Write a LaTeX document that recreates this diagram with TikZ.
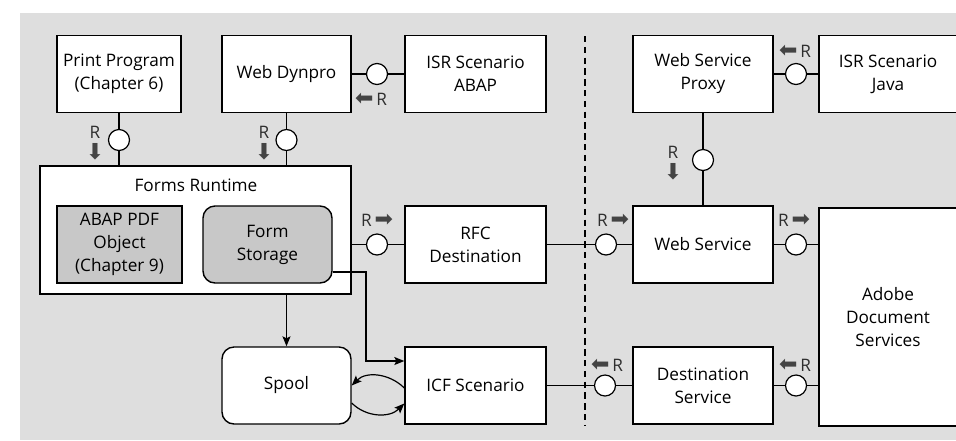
\documentclass[tikz,border=0pt]{standalone}
\usepackage{fontspec}
\setmainfont{Open Sans}
\newfontfamily\symfont{DejaVu Sans}
\usetikzlibrary{arrows.meta}
\definecolor{bgcol}{HTML}{DEDEDE}
\definecolor{boxgray}{HTML}{C8C8C8}
\definecolor{tagcol}{HTML}{2E2E2E}
\definecolor{tiparrow}{HTML}{444444}
% fat arrows next to the R tags
\newcommand{\Rright}{{\symfont\fontsize{11}{11}\selectfont\color{tiparrow}\char"27A1}}
\newcommand{\Rleft}{{\symfont\fontsize{11}{11}\selectfont\color{tiparrow}\char"2B05}}
\newcommand{\Rdown}{{\symfont\fontsize{11}{11}\selectfont\color{tiparrow}\char"2B07}}
\begin{document}
\begin{tikzpicture}[x=0.5pt,y=-0.5pt,
	every node/.style={font=\fontsize{8.6}{11.5}\selectfont},
	box/.style={draw, fill=white, line width=0.7pt, align=center, inner sep=0pt, minimum height=38.5pt},
	graybox/.style={box, fill=boxgray},
	roundbox/.style={box, rounded corners=6pt},
	iface/.style={circle, draw, fill=white, line width=0.6pt, minimum size=10.5pt, inner sep=0pt},
	rtag/.style={text=tagcol, inner sep=0pt, align=center},
	link/.style={line width=0.6pt},
	flow/.style={link, -{Stealth[length=5pt,width=4pt,inset=1pt]}},
	sep/.style={line width=0.9pt, dash pattern=on 3.2pt off 2.2pt}]
	\useasboundingbox (0,0) rectangle (956,440);
	% Hintergrund
	\fill[bgcol] (20,13) rectangle (956,440);
	% obere Reihe
	\node[box, minimum width=62pt] (prog) at (119,74) {Print Program\\(Chapter 6)};
	\node[box, minimum width=64.5pt] (dynpro) at (286.5,74) {Web Dynpro};
	\node[box, minimum width=70.5pt] (israbap) at (475.5,74) {ISR Scenario\\ABAP};
	\node[box, minimum width=70pt] (proxy) at (703,74) {Web Service\\Proxy};
	\node[box, minimum width=69pt] (isrjava) at (888,74) {ISR Scenario\\Java};
	% Forms Runtime mit Inhalt
	\node[box, minimum width=155.5pt, minimum height=64pt] (runtime) at (195.5,230) {};
	\node (rttitle) at (196,185) {Forms Runtime};
	\node[graybox, minimum width=62.5pt] (pdfobj) at (119.5,244.5) {ABAP PDF\\Object\\(Chapter 9)};
	\node[roundbox, fill=boxgray, minimum width=64.5pt] (storage) at (267.5,244.5) {Form\\Storage};
	% mittlere Reihe
	\node[box, minimum width=70.5pt] (rfc) at (475.5,244.5) {RFC\\Destination};
	\node[box, minimum width=70pt] (ws) at (703,244.5) {Web Service};
	\node[box, minimum width=69pt, minimum height=109pt] (adobe) at (888,317) {Adobe\\Document\\Services};
	% untere Reihe
	\node[roundbox, minimum width=64.5pt] (spool) at (286.5,385.5) {Spool};
	\node[box, minimum width=70.5pt] (icf) at (475.5,385.5) {ICF Scenario};
	\node[box, minimum width=70pt] (dest) at (703,385.5) {Destination\\Service};
	% Schnittstellen
	\node[iface] (i1) at (119,140) {};
	\node[iface] (i2) at (286.5,140) {};
	\node[iface] (i3) at (377,74) {};
	\node[iface] (i4) at (796,74) {};
	\node[iface] (i5) at (703,160) {};
	\node[iface] (i6) at (377,244.5) {};
	\node[iface] (i7) at (606,244.5) {};
	\node[iface] (i8) at (796,244.5) {};
	\node[iface] (i9) at (605,385.5) {};
	\node[iface] (i10) at (796,385.5) {};
	\draw[link] (prog) -- (i1) -- (i1 |- runtime.north);
	\draw[link] (dynpro) -- (i2) -- (i2 |- runtime.north);
	\draw[link] (dynpro) -- (i3) -- (israbap);
	\draw[link] (proxy) -- (i4) -- (isrjava);
	\draw[link] (proxy) -- (i5) -- (ws);
	\draw[link] (i6 -| runtime.east) -- (i6) -- (rfc);
	\draw[link] (rfc) -- (i7) -- (ws);
	\draw[link] (ws) -- (i8) -- (i8 -| adobe.west);
	\draw[link] (icf) -- (i9) -- (dest);
	\draw[link] (dest) -- (i10) -- (i10 -| adobe.west);
	% R-Markierungen
	\node[rtag] (t1) at (95,143) {R\\[-1pt]\Rdown};
	\node[rtag] (t2) at (264,143) {R\\[-1pt]\Rdown};
	\node[rtag] (t3) at (371,99) {\Rleft\,R};
	\node[rtag] (t4) at (795,51) {\Rleft\,R};
	\node[rtag] (t5) at (673,163) {R\\[-1pt]\Rdown};
	\node[rtag] (t6) at (377,220) {R\,\Rright};
	\node[rtag] (t7) at (613,220) {R\,\Rright};
	\node[rtag] (t8) at (794,220) {R\,\Rright};
	\node[rtag] (t9) at (607,365) {\Rleft\,R};
	\node[rtag] (t10) at (795,365) {\Rleft\,R};
	% Trennlinie
	\coordinate (septop) at (585,36);
	\coordinate (sepbot) at (585,425);
	\draw[sep] (septop) -- (sepbot);
	% Pfeile zu Spool und ICF
	\draw[flow] (runtime.south -| spool) -- (spool);
	\coordinate (fsout) at ([yshift=-13.75pt]storage.east);
	\coordinate (icfin) at ([yshift=12.25pt]icf.west);
	\coordinate (elbow) at (366,272);
	\draw[flow] (fsout) -- (elbow) |- (icfin);
	\draw[flow] ([yshift=-1.25pt]icf.west) to[out=135,in=45] (spool.east);
	\draw[flow] ([yshift=-8.75pt]spool.east) to[out=-45,in=-135] ([yshift=-9pt]icf.west);
\end{tikzpicture}
\end{document}
